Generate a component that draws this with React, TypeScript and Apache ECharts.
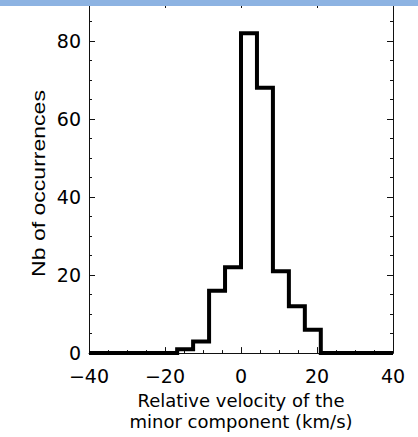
import React, { useEffect, useRef } from "react";
import * as echarts from "echarts";

const binEdges = [-16.8, -12.6, -8.4, -4.2, 0, 4.2, 8.4, 12.6, 16.8, 21.0];
const counts = [1, 3, 16, 22, 82, 68, 21, 12, 6];
const xRange = [-40, 40];
const yRange = [0, 90];
const xTitle = "Relative velocity of the\nminor component (km/s)";
const yTitle = "Nb of occurrences";

export default function App() {
  const ref = useRef<HTMLDivElement>(null);
  useEffect(() => {
    document.body.style.margin = "0";
    const chart = echarts.init(ref.current!, null, { renderer: "svg" });
    const data: number[][] = [[xRange[0], 0]];
    for (let i = 0; i < counts.length; i++) data.push([binEdges[i], counts[i]]);
    data.push([binEdges[binEdges.length - 1], 0]);
    data.push([xRange[1], 0]);

    const axisLine = { show: true, onZero: false, lineStyle: { color: "#111", width: 1 } };
    const tick = { show: true, inside: true, length: 6, lineStyle: { color: "#111", width: 1 } };
    const minor = { show: true, splitNumber: 4, length: 3, lineStyle: { color: "#111", width: 1 } };
    const fmt = (v: number) => String(v).replace("-", "\u2212");
    const labelFont = { fontFamily: "DejaVu Sans", fontSize: 19, color: "#000" };

    chart.setOption({
      animation: false,
      backgroundColor: "#fff",
      grid: { left: 89, right: 25, top: 2, bottom: 71, containLabel: false },
      xAxis: [
        {
          type: "value", min: xRange[0], max: xRange[1], interval: 20,
          axisLine, axisTick: tick, minorTick: minor, splitLine: { show: false },
          axisLabel: { ...labelFont, margin: 13, formatter: fmt },
          name: xTitle, nameLocation: "middle", nameGap: 31,
          nameTextStyle: { fontFamily: "DejaVu Sans", fontSize: 18, lineHeight: 21, color: "#000" },
        },
        {
          type: "value", position: "top", min: xRange[0], max: xRange[1], interval: 20,
          axisLine, axisTick: tick, minorTick: minor, splitLine: { show: false },
          axisLabel: { show: false },
        },
      ],
      yAxis: [
        {
          type: "value", min: yRange[0], max: yRange[1], interval: 20,
          axisLine, axisTick: tick, minorTick: minor, splitLine: { show: false },
          axisLabel: { ...labelFont, margin: 8, showMaxLabel: false },
        },
        {
          type: "value", position: "right", min: yRange[0], max: yRange[1], interval: 20,
          axisLine, axisTick: tick, minorTick: minor, splitLine: { show: false },
          axisLabel: { show: false },
        },
      ],
      series: [
        {
          type: "line", step: "end", data, symbol: "none", xAxisIndex: 0, yAxisIndex: 0,
          lineStyle: { color: "#000", width: 4, join: "miter", cap: "butt" },
          z: 5,
        },
      ],
      graphic: [
        {
          type: "text", x: 38.5, y: 183.5, rotation: Math.PI / 2, scaleX: 1.28,
          style: {
            text: yTitle, fontFamily: "Liberation Sans", fontSize: 18, fill: "#000",
            align: "center", verticalAlign: "middle",
          },
        },
        {
          type: "rect", left: 0, top: 0, z: 100,
          shape: { width: 418, height: 6 },
          style: { fill: "#8db3e2" },
        },
      ],
    });
    return () => chart.dispose();
  }, []);
  return <div ref={ref} style={{ position: "absolute", left: 0, top: 0, width: 418, height: 437 }} />;
}
